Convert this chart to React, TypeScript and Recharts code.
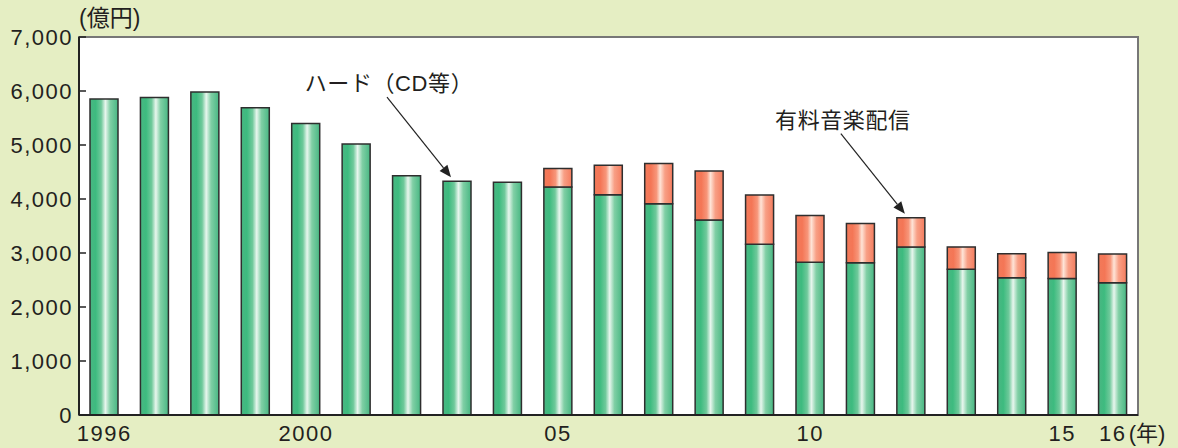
import { BarChart, Bar, XAxis, YAxis, ReferenceArea, LabelList } from 'recharts';

// 音楽ソフト売上（億円）
const years = ['1996','1997','1998','1999','2000','2001','2002','2003','2004','2005','2006','2007','2008','2009','2010','2011','2012','2013','2014','2015','2016'];
const xLabels = ['1996','','','','2000','','','','','05','','','','','10','','','','','15','16'];
const hardSales = [5850,5880,5980,5690,5400,5020,4430,4330,4310,4220,4080,3910,3610,3160,2830,2820,3110,2700,2540,2530,2450];
const digitalSales = [0,0,0,0,0,0,0,0,0,346,544,748,907,913,865,728,543,413,444,481,531];
const yTicks = [0,1000,2000,3000,4000,5000,6000,7000];

const hardNote = { year: '2003', text: 'ハード（CD等）' };
const digitalNote = { year: '2012', text: '有料音楽配信' };

const FONT = "'Liberation Sans', Arial, 'Noto Sans CJK JP', sans-serif";
const INK = '#231f20';
const BG = '#e5eec3';

const rows = years.map((y, i) => ({ year: y, hard: hardSales[i], digital: digitalSales[i] }));

function XTick(props: any){
  const { x, y, index } = props;
  const label = xLabels[index];
  return (
    <g>
      <text x={x} y={y} dy="0.71em" textAnchor="middle" fontSize={22} letterSpacing={1.5} fill={INK} fontFamily={FONT}>{label}</text>
      {index === years.length - 1 && (
        <text x={x + 16} y={y} dy="0.71em" textAnchor="start" fontSize={22} fill={INK} fontFamily={FONT}>(年)</text>
      )}
    </g>
  );
}

function YTick(props: any){
  const { x, y, payload } = props;
  return (
    <g>
      <text x={x + 1} y={y} dy="0.36em" textAnchor="end" fontSize={22} letterSpacing={1.5} fill={INK} fontFamily={FONT}>
        {Number(payload.value).toLocaleString('en-US')}
      </text>
      <line x1={x + 7} x2={x + 14} y1={y} y2={y} stroke="#222" strokeWidth={1.5} />
    </g>
  );
}

function arrowNote(cx: number, top: number, text: string){
  const tx = cx - 6, ty = top - 4;
  const sx = cx - 70, sy = top - 84;
  const ang = Math.atan2(ty - sy, tx - sx);
  const len = 12, half = 5;
  const bx = tx - len * Math.cos(ang), by = ty - len * Math.sin(ang);
  const px = -Math.sin(ang) * half, py = Math.cos(ang) * half;
  return (
    <g key={text}>
      <line x1={sx} y1={sy} x2={bx} y2={by} stroke="#222" strokeWidth={1.2} />
      <polygon points={`${tx},${ty} ${bx + px},${by + py} ${bx - px},${by - py}`} fill="#222" />
      <text x={cx - 68} y={top - 98} dy="0.36em" textAnchor="middle" fontSize={22} letterSpacing={0.6} fill={INK} fontFamily={FONT}>{text}</text>
    </g>
  );
}

// captions hang off the hard-series bars; the digital top is derived from the bar's own scale
function renderNotes(props: any){
  const { x, y, width, height, index } = props;
  const yr = years[index];
  const cx = x + width / 2;
  if (yr === hardNote.year) return arrowNote(cx, y, hardNote.text);
  if (yr === digitalNote.year){
    const perUnit = height / hardSales[index];
    return arrowNote(cx, y - perUnit * digitalSales[index], digitalNote.text);
  }
  return null;
}

export default function App(){
  return (
    <div style={{ position: 'absolute', left: 0, top: 0, width: 1178, height: 448, background: BG }}>
      <div style={{ position: 'absolute', left: 79, top: 5, fontSize: 23, color: INK, fontFamily: FONT, lineHeight: '26px' }}>(億円)</div>
      <BarChart width={1178} height={448} data={rows} margin={{ top: 37, right: 40, bottom: 3, left: 0 }} barSize={28}>
        <defs>
          <linearGradient id="gHard" x1="0" x2="1" y1="0" y2="0">
            <stop offset="0" stopColor="#4ab682" />
            <stop offset="0.2" stopColor="#3dbb7f" />
            <stop offset="0.4" stopColor="#6fc99b" />
            <stop offset="0.55" stopColor="#e8f6ee" />
            <stop offset="0.72" stopColor="#80cfa5" />
            <stop offset="1" stopColor="#48b783" />
          </linearGradient>
          <linearGradient id="gDigital" x1="0" x2="1" y1="0" y2="0">
            <stop offset="0" stopColor="#f27a5a" />
            <stop offset="0.22" stopColor="#f47656" />
            <stop offset="0.42" stopColor="#f7967a" />
            <stop offset="0.55" stopColor="#fee4d7" />
            <stop offset="0.72" stopColor="#f89f85" />
            <stop offset="1" stopColor="#f47c5e" />
          </linearGradient>
        </defs>
        <ReferenceArea y1={0} y2={7000} fill="#ffffff" fillOpacity={1} stroke="#777" strokeWidth={2} ifOverflow="visible" />
        <XAxis dataKey="year" interval={0} height={30} tickSize={0} tickMargin={10} tickLine={false}
          axisLine={{ stroke: '#222', strokeWidth: 2 }} tick={<XTick />} />
        <YAxis width={79} domain={[0, 7000]} ticks={yTicks} tickSize={0} tickMargin={7} tickLine={false}
          axisLine={{ stroke: '#222', strokeWidth: 2 }} tick={<YTick />} />
        <Bar dataKey="hard" stackId="s" fill="url(#gHard)" stroke="#2e2e2e" strokeWidth={1.5} isAnimationActive={false}>
          <LabelList dataKey="hard" content={renderNotes} />
        </Bar>
        <Bar dataKey="digital" stackId="s" fill="url(#gDigital)" stroke="#2e2e2e" strokeWidth={1.5} isAnimationActive={false} />
      </BarChart>
    </div>
  );
}
